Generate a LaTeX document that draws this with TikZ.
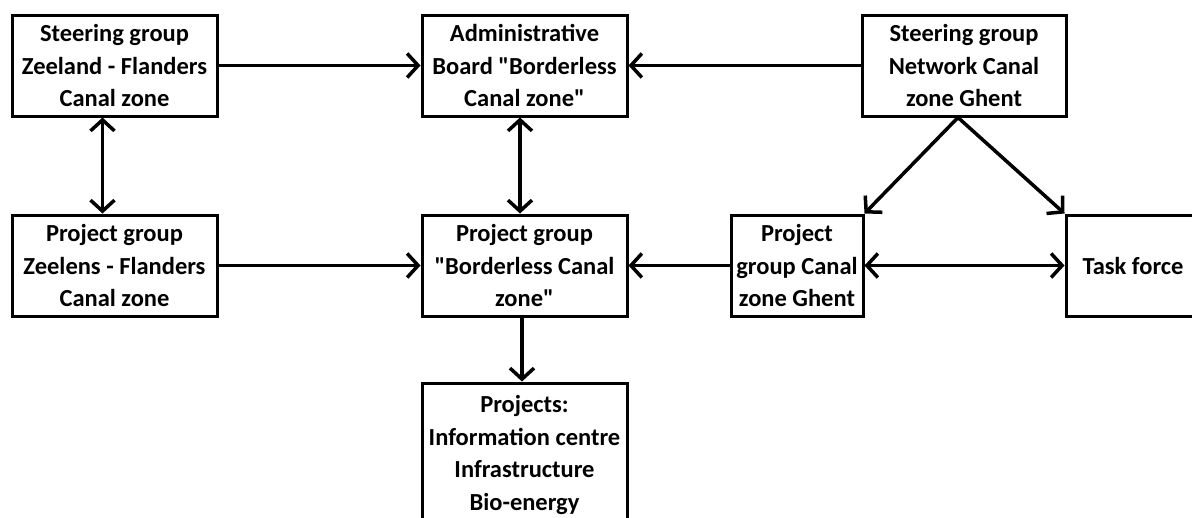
\documentclass[tikz,border=0pt]{standalone}
\usepackage{fontspec}
\setmainfont{Carlito}[Ligatures=TeXOff]
\usetikzlibrary{arrows.meta}
\begin{document}
\begin{tikzpicture}[x=1pt,y=-1pt,
  box/.style={draw,line width=3pt,align=center,inner sep=0pt,
    font=\bfseries\fontsize{24.5}{32.5}\selectfont},
  tip/.tip={Straight Barb[length=11pt,width=24pt]},
  arr/.style={line width=3.5pt,-tip},
  arrboth/.style={line width=3.5pt,tip-tip}]
\useasboundingbox (0,0) rectangle (1192,517);
\clip (0,0) rectangle (1192,517);
% top row
\node[box,minimum width=205pt,minimum height=101pt] (A) at (114.5,65.5)
  {Steering group\\Zeeland - Flanders\\Canal zone};
\node[box,minimum width=205pt,minimum height=101pt] (B) at (524.5,65.5)
  {Administrative\\Board "Borderless\\Canal zone"};
\node[box,minimum width=204pt,minimum height=101pt] (C) at (964,65.5)
  {Steering group\\Network Canal\\zone Ghent};
% middle row
\node[box,minimum width=205pt,minimum height=101pt] (D) at (114.5,265.5)
  {Project group\\Zeelens - Flanders\\Canal zone};
\node[box,minimum width=205pt,minimum height=101pt] (E) at (524.5,265.5)
  {Project group\\"Borderless Canal\\zone"};
\node[box,minimum width=132pt,minimum height=101pt] (F) at (797,265.5)
  {Project\\group Canal\\zone Ghent};
\node[box,minimum width=134pt,minimum height=101pt] (G) at (1133,265.5)
  {Task force};
% bottom row (runs past the lower edge)
\node[box,minimum width=205pt,minimum height=144pt] (H) at (524.5,455)
  {Projects:\\Information centre\\Infrastructure\\Bio-energy};
% connectors
\draw[arr] (A.east) -- (B.west);
\draw[arr] (C.west) -- (B.east);
\draw[arrboth] ([xshift=-12pt]A.south) -- ([xshift=-12pt]D.north);
\draw[arrboth] ([xshift=-4.5pt]B.south) -- ([xshift=-4.5pt]E.north);
\draw[arr] (D.east) -- (E.west);
\draw[arr] (F.west) -- (E.east);
\draw[arrboth] (F.east) -- (G.west);
\draw[arr] ([xshift=-6pt]C.south) -- (F.north east);
\draw[arr] ([xshift=-6pt]C.south) -- (G.north west);
\draw[arr] ([xshift=-2.5pt]E.south) -- ([xshift=-2.5pt]H.north);
\end{tikzpicture}
\end{document}
